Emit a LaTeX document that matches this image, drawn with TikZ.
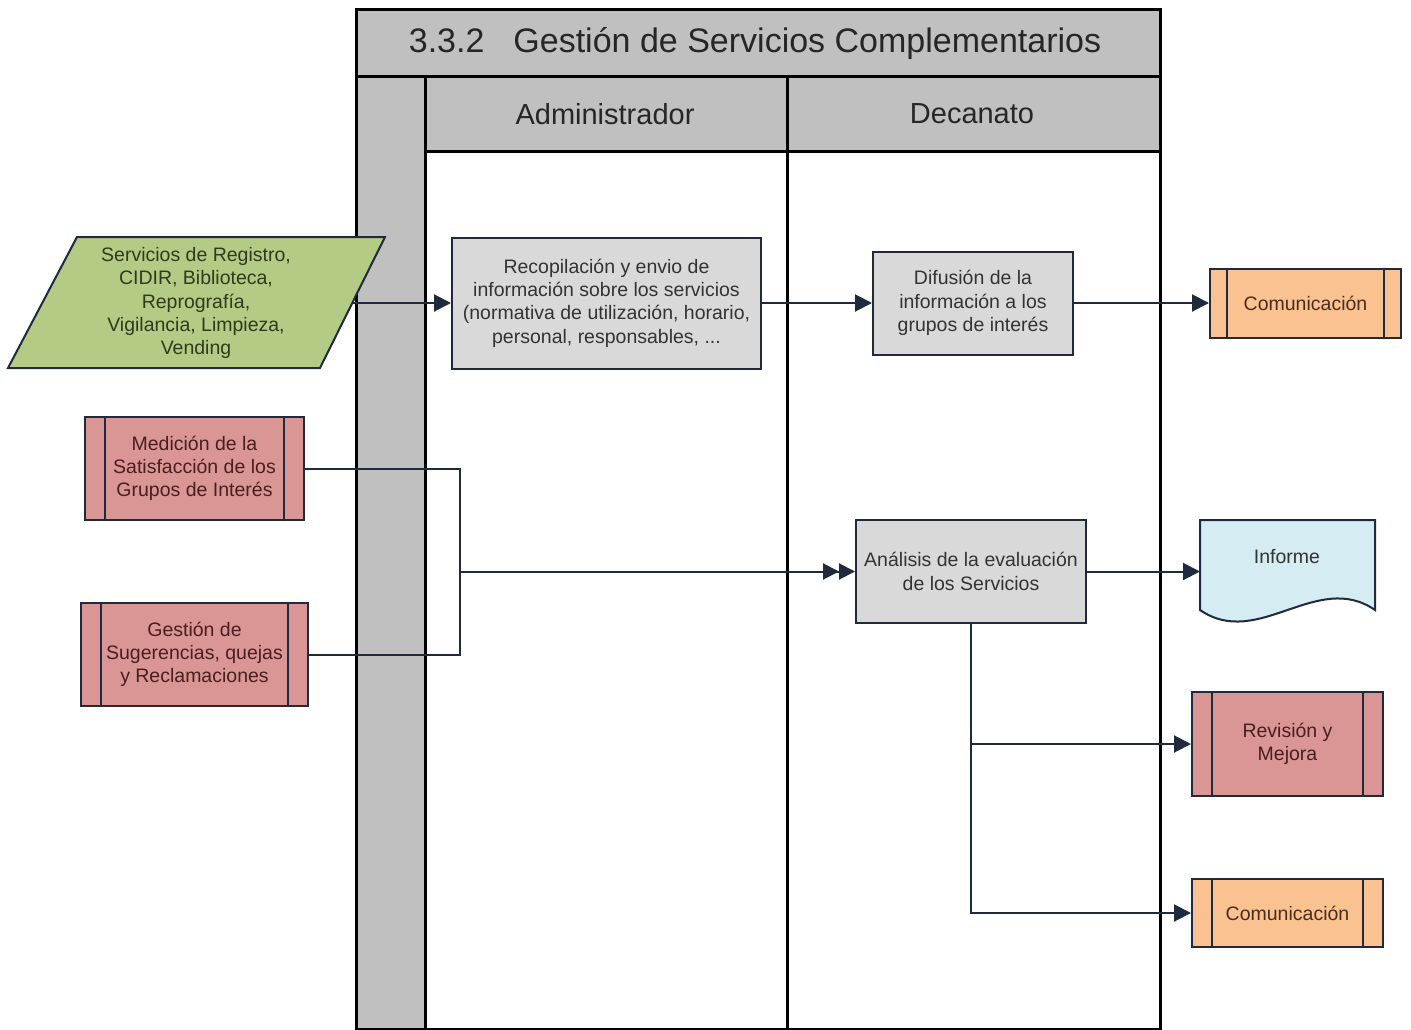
\documentclass[tikz,border=0pt]{standalone}
\usepackage{fontspec}
\setmainfont{Liberation Sans}
\usetikzlibrary{arrows.meta}
\definecolor{navy}{HTML}{1F2A3C}
\definecolor{poolgray}{HTML}{C0C0C0}
\definecolor{boxgray}{HTML}{D9D9D9}
\definecolor{pgreen}{HTML}{B3CB85}
\definecolor{pred}{HTML}{D99694}
\definecolor{porange}{HTML}{FAC191}
\definecolor{pblue}{HTML}{D5ECF3}
\definecolor{txtgray}{HTML}{333333}
\definecolor{txtgreen}{HTML}{2F3B1C}
\definecolor{txtred}{HTML}{4A1E1E}
\definecolor{txtorange}{HTML}{4A2E1C}
\newcommand\bxfont{\fontsize{19.5}{23.3}\selectfont}
\tikzset{
  poolline/.style={line width=3pt, draw=black},
  proc/.style={draw=navy, line width=2pt, fill=boxgray, align=center, font=\bxfont, text=txtgray, inner sep=0pt},
  subred/.style={proc, fill=pred, text=txtred},
  suborange/.style={proc, fill=porange, text=txtorange},
  bar/.style={draw=navy, line width=2pt},
  conn/.style={draw=navy, line width=2pt, -{Triangle[length=17pt,width=17pt]}},
  dconn/.style={draw=navy, line width=2pt, -{Triangle[length=16pt,width=16pt]Triangle[length=16pt,width=16pt]}},
  wire/.style={draw=navy, line width=2pt},
}
\begin{document}
\begin{tikzpicture}[x=1pt,y=-1pt]
\useasboundingbox (0,0) rectangle (1411,1030);
% pool
\fill[poolgray] (356,10) rectangle (1160,77);
\fill[poolgray] (356,77) rectangle (1160,152);
\fill[poolgray] (356,152) rectangle (425,1029);
\draw[poolline] (356,10) rectangle (1160,1029);
\draw[poolline] (356,77) -- (1160,77);
\draw[poolline] (425,152) -- (1160,152);
\draw[poolline] (425,77) -- (425,1029);
\draw[poolline] (787,77) -- (787,1029);
\node[font=\fontsize{34}{40}\selectfont, text=black!85] (title) at (755,44) {3.3.2\hspace{29pt}Gestión de Servicios Complementarios};
\node[font=\fontsize{29}{34}\selectfont, text=black!85] (lane1) at (605,114) {Administrador};
\node[font=\fontsize{29}{34}\selectfont, text=black!85] (lane2) at (972,114) {Decanato};

% input parallelogram
\draw[draw=navy, line width=2pt, fill=pgreen] (77,237) -- (385,237) -- (320,368) -- (8,368) -- cycle;
\node[align=center, font=\bxfont, text=txtgreen] (par) at (196,303) {Servicios de Registro,\\CIDIR, Biblioteca,\\Reprografía,\\Vigilancia, Limpieza,\\Vending};
\coordinate (parR) at (352,303);

% process boxes
\node[proc, minimum width=309pt, minimum height=131pt] (rec) at (606.5,303) {Recopilación y envio de\\información sobre los servicios\\(normativa de utilización, horario,\\personal, responsables, ...};
\node[proc, minimum width=200pt, minimum height=103pt] (dif) at (973,303) {Difusión de la\\información a los\\grupos de interés};
\node[proc, minimum width=230pt, minimum height=103pt] (ana) at (971,571.5) {Análisis de la evaluación\\de los Servicios};

% subprocesses
\node[suborange, minimum width=191pt, minimum height=69pt] (com1) at (1305.5,303) {Comunicación};
\draw[bar] ([xshift=18pt]com1.north west) -- ([xshift=18pt]com1.south west);
\draw[bar] ([xshift=-18pt]com1.north east) -- ([xshift=-18pt]com1.south east);

\node[subred, minimum width=219pt, minimum height=103pt] (med) at (194.5,468.5) {Medición de la\\Satisfacción de los\\Grupos de Interés};
\draw[bar] ([xshift=21pt]med.north west) -- ([xshift=21pt]med.south west);
\draw[bar] ([xshift=-21pt]med.north east) -- ([xshift=-21pt]med.south east);

\node[subred, minimum width=227pt, minimum height=103pt] (ges) at (194.5,654.5) {Gestión de\\Sugerencias, quejas\\y Reclamaciones};
\draw[bar] ([xshift=21pt]ges.north west) -- ([xshift=21pt]ges.south west);
\draw[bar] ([xshift=-21pt]ges.north east) -- ([xshift=-21pt]ges.south east);

\node[subred, minimum width=191pt, minimum height=104pt] (rev) at (1287.5,744) {Revisión y\\Mejora};
\draw[bar] ([xshift=21pt]rev.north west) -- ([xshift=21pt]rev.south west);
\draw[bar] ([xshift=-21pt]rev.north east) -- ([xshift=-21pt]rev.south east);

\node[suborange, minimum width=191pt, minimum height=68pt] (com2) at (1287.5,913) {Comunicación};
\draw[bar] ([xshift=21pt]com2.north west) -- ([xshift=21pt]com2.south west);
\draw[bar] ([xshift=-21pt]com2.north east) -- ([xshift=-21pt]com2.south east);

% document
\draw[draw=navy, line width=2pt, fill=pblue] (1200,520) -- (1375,520) -- (1375,610)
  .. controls (1317,570) and (1258,650) .. (1200,610) -- cycle;
\node[font=\bxfont, text=txtgray] (inf) at (1287,557) {Informe};
\coordinate (infW) at (1200,571.5);

% connectors
\draw[conn] (parR) -- (rec.west |- parR);
\draw[conn] (rec.east) -- (dif.west);
\draw[conn] (dif.east) -- (com1.west);
\coordinate (jn) at (460,571.5);
\draw[wire] (med.east) -| (jn);
\draw[wire] (ges.east) -| (jn);
\draw[dconn] (jn) -- (ana.west);
\draw[conn] (ana.east) -- (infW);
\draw[conn] (ana.south) |- (rev.west);
\draw[conn] (ana.south) |- (com2.west);
\end{tikzpicture}
\end{document}
